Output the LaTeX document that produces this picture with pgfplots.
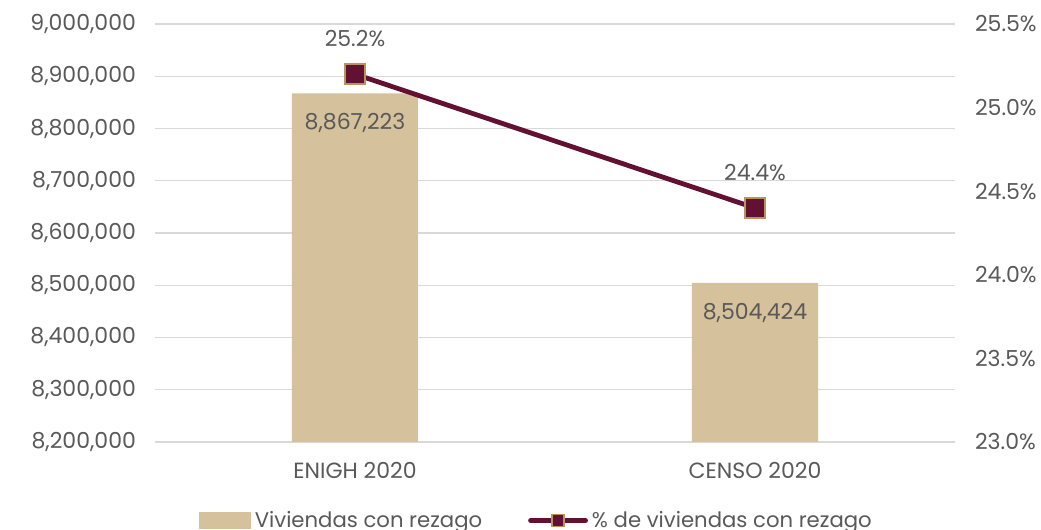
\documentclass[border=0pt]{standalone}
\usepackage{fontspec}
\setmainfont{Poppins}
\usepackage{pgfplots}
\pgfplotsset{compat=1.18}
\definecolor{barcol}{HTML}{D5C19B}
\definecolor{linecol}{HTML}{621132}
\definecolor{markedge}{HTML}{B8955D}
\definecolor{txt}{HTML}{595959}
\definecolor{gridc}{HTML}{D9D9D9}

\begin{document}
\begin{tikzpicture}
\pgfplotsset{
  base/.style={
    width=400pt, height=209pt, scale only axis,
    at={(0,0)}, anchor=south west,
    xmin=-0.5, xmax=1.5,
    axis line style={draw=none}, major tick length=0pt, tick style={draw=none},
    ticklabel style={font=\fontsize{11}{13}\selectfont, text=txt},
    /pgf/number format/assume math mode=true,
  },
}
\begin{axis}[base, name=main,
  ymin=8200000, ymax=9000000,
  ytick={8200000,8300000,8400000,8500000,8600000,8700000,8800000,8900000,9000000},
  scaled y ticks=false,
  yticklabel style={xshift=-6pt, /pgf/number format/.cd, fixed, precision=0, 1000 sep={,}},
  xtick={0,1}, xticklabels={ENIGH 2020,CENSO 2020},
  xticklabel style={yshift=-6.5pt},
  ymajorgrids, grid style={gridc, line width=0.6pt},
]
\addplot[ybar, bar width=63pt, fill=barcol, draw=none,
  nodes near coords,
  nodes near coords style={anchor=north, yshift=-6.5pt, text=txt,
    font=\fontsize{11}{13}\selectfont,
    /pgf/number format/.cd, fixed, precision=0, 1000 sep={,}},
] coordinates {(0,8867223) (1,8504424)};
\end{axis}

\begin{axis}[base,
  ymin=23, ymax=25.5,
  ytick={23,23.5,24,24.5,25,25.5},
  axis y line*=right, axis x line=none,
  yticklabel style={xshift=6.5pt},
  yticklabel={\pgfmathprintnumber[fixed,fixed zerofill,precision=1]{\tick}\%},
  legend style={at={(0.478,-0.188)}, anchor=center, draw=none, fill=none,
    font=\fontsize{10.6}{13}\selectfont, text=txt,
    /tikz/every even column/.append style={column sep=21pt}},
  legend columns=2, legend cell align=left,
]
\addlegendimage{legend image code/.code={\fill[barcol] (0pt,-4pt) rectangle (25.5pt,4pt);}}
\addlegendentry{Viviendas con rezago}
\addplot[linecol, line width=2.4pt, mark=square*, mark size=5pt,
  mark options={fill=linecol, draw=markedge, line width=0.8pt},
  nodes near coords={\pgfmathprintnumber[fixed,fixed zerofill,precision=1]{\pgfplotspointmeta}\%},
  nodes near coords style={anchor=south, yshift=10pt, text=txt,
    font=\fontsize{11}{13}\selectfont},
  legend image code/.code={
    \draw[linecol, line width=2.4pt, line cap=round] (0pt,0pt) -- (27.5pt,0pt);
    \draw[fill=linecol, draw=markedge, line width=0.6pt] (10.75pt,-3pt) rectangle (16.75pt,3pt);},
] coordinates {(0,25.2) (1,24.4)};
\addlegendentry{\% de viviendas con rezago}
\end{axis}
\pgfresetboundingbox
\path ([xshift=-77.5pt,yshift=-44pt]main.south west) rectangle ([xshift=43pt,yshift=12pt]main.north east);
\end{tikzpicture}
\end{document}
